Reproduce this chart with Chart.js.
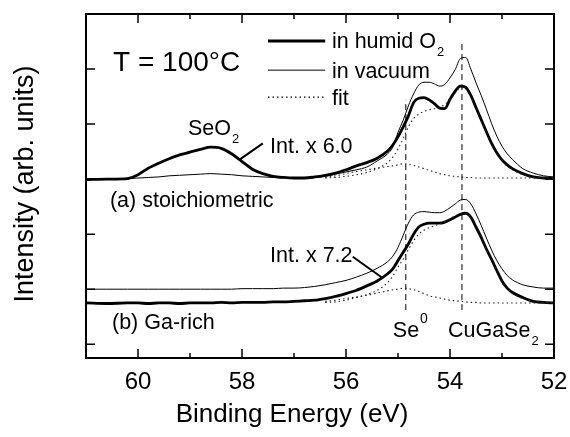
<!DOCTYPE html>
<html>
<head>
<meta charset="utf-8">
<script src="https://cdn.jsdelivr.net/npm/chart.js@4"></script>
<style>
html, body { margin: 0; padding: 0; background: #fff; }
</style>
</head>
<body>
<canvas id="xps" width="570" height="437"></canvas>
<script>
// Se 3d region, binding energy grid (eV)
const energy = [61, 60.6, 60.2, 60.0, 59.8, 59.6, 59.4, 59.2, 59.0, 58.8, 58.6, 58.4, 58.2, 58.0,
  57.8, 57.6, 57.4, 57.2, 57.0, 56.8, 56.6, 56.4, 56.2, 56.0, 55.8, 55.6, 55.4, 55.2,
  55.1, 55.0, 54.9, 54.8, 54.7, 54.6, 54.5, 54.4, 54.3, 54.2, 54.1, 54.0, 53.9, 53.8,
  53.7, 53.6, 53.5, 53.4, 53.3, 53.2, 53.1, 53.0, 52.9, 52.8, 52.6, 52.4, 52.2, 52.0];

// (a) stoichiometric, offset by +3
const humidA = [2.99, 3.00, 3.01, 3.08, 3.20, 3.29, 3.37, 3.44, 3.49, 3.54, 3.58, 3.56, 3.46, 3.32,
  3.18, 3.10, 3.05, 3.03, 3.02, 3.02, 3.04, 3.07, 3.11, 3.17, 3.24, 3.30, 3.38, 3.51,
  3.62, 3.77, 3.95, 4.15, 4.39, 4.47, 4.48, 4.44, 4.37, 4.29, 4.28, 4.45, 4.60, 4.69,
  4.67, 4.52, 4.30, 4.08, 3.86, 3.65, 3.48, 3.35, 3.26, 3.19, 3.10, 3.04, 3.02, 3.01];
const vacuumA = [2.99, 3.00, 3.01, 3.02, 3.03, 3.04, 3.06, 3.07, 3.08, 3.09, 3.10, 3.09, 3.08, 3.06,
  3.05, 3.04, 3.03, 3.02, 3.01, 3.01, 3.03, 3.05, 3.09, 3.13, 3.17, 3.22, 3.33, 3.46,
  3.58, 3.85, 4.07, 4.33, 4.55, 4.71, 4.76, 4.76, 4.73, 4.69, 4.72, 4.84, 4.99, 5.19,
  5.21, 5.00, 4.75, 4.52, 4.27, 4.01, 3.78, 3.60, 3.46, 3.36, 3.19, 3.11, 3.06, 3.04];
const fitSeA = [null, null, null, null, null, null, null, null, null, null, null, null, null, null,
  null, null, null, null, null, null, null, 3.03, 3.06, 3.10, 3.14, 3.17, 3.20, 3.23,
  3.24, 3.26, 3.28, 3.27, 3.25, 3.22, 3.19, 3.16, 3.13, 3.10, 3.08, 3.06, 3.05, 3.04,
  3.03, 3.03, 3.02, 3.02, 3.02, 3.02, 3.02, 3.02, 3.02, 3.02, 3.02, 3.02, 3.02, 3.02];
const fitCgsA = [null, null, null, null, null, null, null, null, null, null, null, null, null, null,
  null, null, null, null, null, null, null, 3.02, 3.03, 3.05, 3.08, 3.12, 3.19, 3.30,
  3.40, 3.55, 3.74, 3.95, 4.10, 4.18, 4.23, 4.26, 4.28, 4.30, 4.36, 4.44, 4.56, 4.66,
  4.64, 4.50, 4.28, 4.06, 3.84, 3.63, 3.46, 3.33, 3.24, 3.17, 3.08, 3.03, 3.02, 3.02];

// (b) Ga-rich
const humidB = [0.75, 0.74, 0.75, 0.75, 0.74, 0.75, 0.75, 0.74, 0.75, 0.75, 0.75, 0.76, 0.75, 0.76,
  0.76, 0.76, 0.77, 0.77, 0.78, 0.79, 0.80, 0.83, 0.87, 0.92, 0.98, 1.06, 1.15, 1.28,
  1.37, 1.52, 1.67, 1.82, 2.00, 2.13, 2.18, 2.20, 2.20, 2.20, 2.22, 2.26, 2.31, 2.36,
  2.38, 2.31, 2.13, 1.94, 1.73, 1.54, 1.34, 1.15, 1.02, 0.94, 0.85, 0.78, 0.76, 0.75];
const vacuumB = [1.00, 1.00, 1.00, 1.00, 1.00, 1.00, 1.00, 1.00, 1.00, 1.00, 1.00, 1.00, 1.00, 1.01,
  1.01, 1.01, 1.01, 1.02, 1.02, 1.03, 1.05, 1.08, 1.12, 1.16, 1.22, 1.29, 1.38, 1.50,
  1.60, 1.76, 1.98, 2.20, 2.35, 2.40, 2.41, 2.40, 2.39, 2.39, 2.42, 2.48, 2.55, 2.62,
  2.63, 2.55, 2.37, 2.16, 1.93, 1.71, 1.52, 1.37, 1.25, 1.17, 1.08, 1.04, 1.02, 1.02];
const fitSeB = [null, null, null, null, null, null, null, null, null, null, null, null, null, null,
  null, null, null, null, null, null, null, 0.78, 0.80, 0.83, 0.86, 0.89, 0.93, 0.97,
  0.99, 1.00, 1.02, 1.01, 0.99, 0.96, 0.92, 0.88, 0.86, 0.84, 0.82, 0.80, 0.79, 0.78,
  0.77, 0.76, 0.76, 0.75, 0.75, 0.75, 0.75, 0.75, 0.75, 0.75, 0.75, 0.75, 0.75, 0.75];
const fitCgsB = [null, null, null, null, null, null, null, null, null, null, null, null, null, null,
  null, null, null, null, null, null, null, 0.76, 0.77, 0.80, 0.85, 0.90, 0.98, 1.12,
  1.24, 1.40, 1.55, 1.72, 1.88, 2.00, 2.07, 2.12, 2.15, 2.19, 2.23, 2.28, 2.33, 2.37,
  2.38, 2.31, 2.13, 1.93, 1.72, 1.52, 1.32, 1.12, 1.01, 0.93, 0.83, 0.78, 0.76, 0.75];

// reference peak positions (eV) and the span of their marker lines
const se0Marker = { energy: 54.85, from: 0.62, to: 4.44 };
const cgsMarker = { energy: 53.77, from: 0.62, to: 5.49 };

const xTicks = [52, 53, 54, 55, 56, 57, 58, 59, 60, 61];
const yTicks = [0, 1, 2, 3, 4, 5, 6];

const FONT = '"Liberation Sans", Arial, Helvetica, sans-serif';

const pts = vals => energy.map((e, i) => ({ x: e, y: vals[i] }));
const marker = m => [{ x: m.energy, y: m.from }, { x: m.energy, y: m.to }];

function spectrum(vals, kind) {
  const ds = {
    data: pts(vals),
    borderColor: '#000',
    pointRadius: 0,
    cubicInterpolationMode: 'monotone',
    spanGaps: false
  };
  if (kind === 'thick') ds.borderWidth = 2.8;
  if (kind === 'thin') ds.borderWidth = 1;
  if (kind === 'fit') { ds.borderWidth = 1.1; ds.borderDash = [1.5, 3]; ds.borderColor = '#222'; }
  return ds;
}

function dashed(m) {
  return { data: marker(m), borderColor: '#000', borderWidth: 1, borderDash: [6, 4], pointRadius: 0 };
}

// mixed text with sub/superscripts, drawn left to right from (px, py) baseline
function richText(ctx, px, py, size, parts) {
  let cx = px;
  parts.forEach(([t, kind]) => {
    let fs = size, dy = 0;
    if (kind === 'sub') { fs = 13; dy = 8; }
    if (kind === 'sup') { fs = 14; dy = -14; }
    ctx.font = fs + 'px ' + FONT;
    ctx.fillText(t, cx, py + dy);
    cx += ctx.measureText(t).width + (kind ? 0 : 1);
  });
}

const notes = [
  { x: 60.48, y: 4.96, size: 28, parts: [['T = 100°C']] },
  { x: 59.04, y: 3.80, size: 21.5, parts: [['SeO'], ['2', 'sub']] },
  { x: 57.46, y: 3.47, size: 21.5, parts: [['Int. x 6.0']] },
  { x: 60.54, y: 2.50, size: 21.5, parts: [['(a) stoichiometric']] },
  { x: 57.46, y: 1.49, size: 21.5, parts: [['Int. x 7.2']] },
  { x: 60.50, y: 0.27, size: 21.5, parts: [['(b) Ga-rich']] },
  { x: 55.10, y: 0.13, size: 21.5, parts: [['Se'], ['0', 'sup']] },
  { x: 54.04, y: 0.13, size: 21.5, parts: [['CuGaSe'], ['2', 'sub']] }
];

const pointers = [
  [[57.60, 3.65], [58.04, 3.36]],
  [[55.87, 1.59], [55.29, 1.20]]
];

const legendRows = [
  { y: 5.51, width: 3, dash: [], parts: [['in humid O'], ['2', 'sub']] },
  { y: 4.98, width: 1, dash: [], parts: [['in vacuum']] },
  { y: 4.49, width: 1.1, dash: [1.5, 3], parts: [['fit']] }
];

const frame = {
  id: 'frame',
  afterDatasetsDraw(chart) {
    const { ctx, chartArea: a, scales: { x, y } } = chart;
    ctx.save();
    ctx.strokeStyle = '#000';
    ctx.fillStyle = '#000';

    // box and inward ticks
    ctx.lineWidth = 2;
    ctx.strokeRect(a.left, a.top, a.right - a.left, a.bottom - a.top);
    ctx.lineWidth = 1.5;
    ctx.beginPath();
    xTicks.forEach(v => {
      const px = x.getPixelForValue(v);
      const len = v % 2 === 0 ? 9 : 5;
      ctx.moveTo(px, a.bottom); ctx.lineTo(px, a.bottom - len);
      ctx.moveTo(px, a.top); ctx.lineTo(px, a.top + len);
    });
    yTicks.forEach(v => {
      const py = y.getPixelForValue(v);
      ctx.moveTo(a.left, py); ctx.lineTo(a.left + 9, py);
      ctx.moveTo(a.right, py); ctx.lineTo(a.right - 9, py);
    });
    ctx.stroke();

    // annotations
    ctx.textBaseline = 'alphabetic';
    ctx.textAlign = 'left';
    notes.forEach(n => richText(ctx, x.getPixelForValue(n.x), y.getPixelForValue(n.y), n.size, n.parts));

    ctx.lineWidth = 2;
    pointers.forEach(([p, q]) => {
      ctx.beginPath();
      ctx.moveTo(x.getPixelForValue(p[0]), y.getPixelForValue(p[1]));
      ctx.lineTo(x.getPixelForValue(q[0]), y.getPixelForValue(q[1]));
      ctx.stroke();
    });

    // legend
    const lx0 = x.getPixelForValue(57.5), lx1 = x.getPixelForValue(56.4), tx = x.getPixelForValue(56.27);
    legendRows.forEach(r => {
      const py = y.getPixelForValue(r.y);
      ctx.lineWidth = r.width;
      ctx.setLineDash(r.dash);
      ctx.beginPath();
      ctx.moveTo(lx0, py); ctx.lineTo(lx1, py);
      ctx.stroke();
      ctx.setLineDash([]);
      richText(ctx, tx, py + 7.5, 21.5, r.parts);
    });

    // axis titles
    ctx.font = '26px ' + FONT;
    ctx.textAlign = 'center';
    ctx.textBaseline = 'middle';
    ctx.fillText('Binding Energy (eV)', 292, 415);
    ctx.translate(26, 184);
    ctx.rotate(-Math.PI / 2);
    ctx.font = '27px ' + FONT;
    ctx.fillText('Intensity (arb. units)', 0, 0);
    ctx.restore();
  }
};

new Chart(document.getElementById('xps'), {
  type: 'line',
  data: {
    datasets: [
      spectrum(fitSeA, 'fit'), spectrum(fitCgsA, 'fit'),
      spectrum(fitSeB, 'fit'), spectrum(fitCgsB, 'fit'),
      spectrum(vacuumA, 'thin'), spectrum(vacuumB, 'thin'),
      spectrum(humidA, 'thick'), spectrum(humidB, 'thick'),
      dashed(se0Marker), dashed(cgsMarker)
    ]
  },
  options: {
    responsive: false,
    animation: false,
    devicePixelRatio: 1,
    layout: { padding: { top: 14, right: 16, left: 0, bottom: 0 } },
    plugins: { legend: { display: false }, tooltip: { enabled: false } },
    scales: {
      x: {
        type: 'linear',
        reverse: true,
        min: 52,
        max: 61,
        afterFit: s => { s.height = 79; s.paddingLeft = 0; s.paddingRight = 0; },
        grid: { display: false, drawTicks: false },
        border: { display: false },
        ticks: {
          stepSize: 1,
          autoSkip: false,
          maxRotation: 0,
          padding: 10,
          color: '#000',
          font: { family: FONT, size: 24 },
          callback: v => (v % 2 === 0 ? v : '')
        }
      },
      y: {
        min: -0.25,
        max: 6,
        afterFit: s => { s.width = 86; },
        grid: { display: false, drawTicks: false },
        border: { display: false },
        ticks: { display: false }
      }
    }
  },
  plugins: [frame]
});
</script>
</body>
</html>
